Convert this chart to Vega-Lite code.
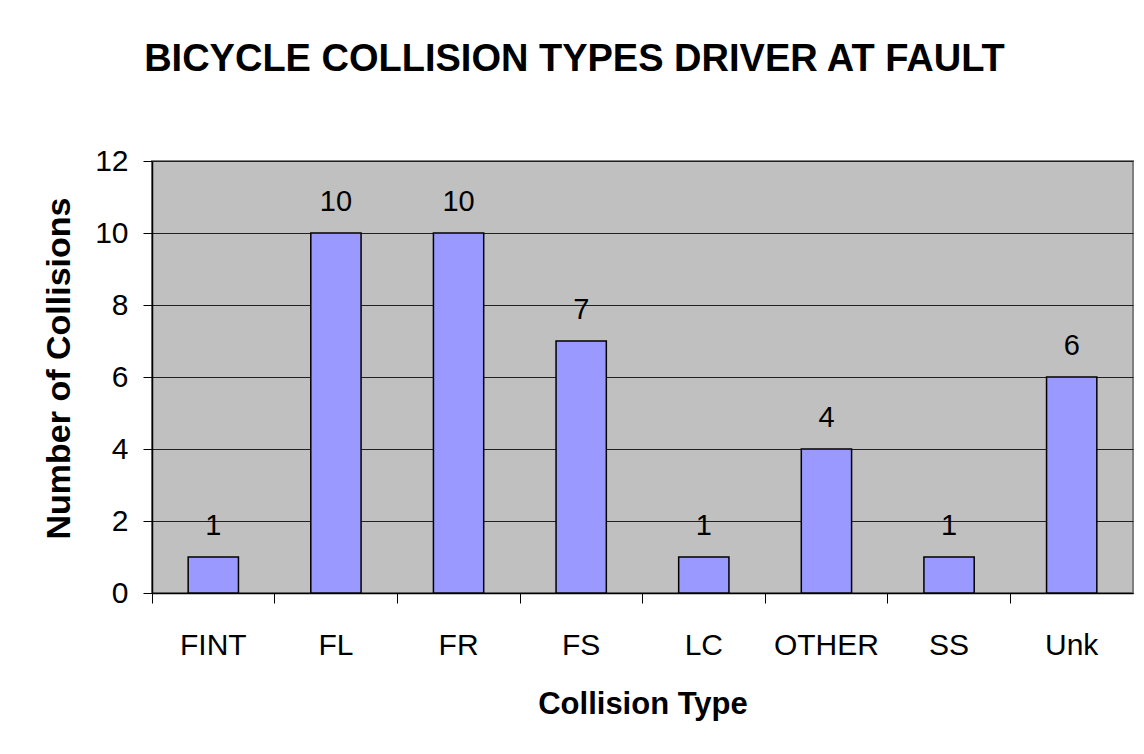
{
  "$schema": "https://vega.github.io/schema/vega-lite/v6.json",
  "width": 981,
  "height": 432,
  "autosize": "none",
  "padding": {"left": 152, "top": 161, "right": 11, "bottom": 161},
  "background": "white",
  "config": {
    "font": "Liberation Sans",
    "view": {"fill": "#C0C0C0", "stroke": "#808080", "strokeWidth": 2}
  },
  "title": {
    "text": "BICYCLE COLLISION TYPES DRIVER AT FAULT",
    "fontSize": 38,
    "fontWeight": "bold",
    "color": "black",
    "anchor": "middle",
    "baseline": "alphabetic",
    "dx": -68,
    "offset": 37
  },
  "data": {
    "values": [
      {"type": "FINT", "count": 1},
      {"type": "FL", "count": 10},
      {"type": "FR", "count": 10},
      {"type": "FS", "count": 7},
      {"type": "LC", "count": 1},
      {"type": "OTHER", "count": 4},
      {"type": "SS", "count": 1},
      {"type": "Unk", "count": 6}
    ]
  },
  "encoding": {
    "x": {
      "field": "type",
      "type": "nominal",
      "sort": null,
      "scale": {"paddingInner": 0.59, "paddingOuter": 0.295},
      "axis": {
        "title": "Collision Type",
        "titleFontSize": 31,
        "titleFontWeight": "bold",
        "titleColor": "black",
        "titleBaseline": "alphabetic",
        "titleY": 120,
        "labelAngle": 0,
        "labelFontSize": 30,
        "labelColor": "black",
        "labelBaseline": "top",
        "labelPadding": 27,
        "domainColor": "black",
        "domainWidth": 1.5,
        "tickColor": "black",
        "tickSize": 10,
        "bandPosition": -0.717
      }
    },
    "y": {
      "field": "count",
      "type": "quantitative",
      "scale": {"domain": [0, 12], "nice": false},
      "axis": {
        "title": "Number of Collisions",
        "titleFontSize": 34,
        "titleFontWeight": "bold",
        "titleColor": "black",
        "titleBaseline": "alphabetic",
        "titleX": -83,
        "titleY": 207,
        "values": [0, 2, 4, 6, 8, 10, 12],
        "labelFontSize": 30,
        "labelColor": "black",
        "labelPadding": 15,
        "domainColor": "black",
        "domainWidth": 1.5,
        "tickColor": "black",
        "tickSize": 9,
        "gridColor": "#202020",
        "gridWidth": 1,
        "grid": true
      }
    }
  },
  "layer": [
    {
      "mark": {"type": "bar", "fill": "#9999FF", "stroke": "black", "strokeWidth": 1.5}
    },
    {
      "mark": {"type": "text", "baseline": "alphabetic", "dy": -22, "fontSize": 29, "color": "black"},
      "encoding": {"text": {"field": "count", "type": "quantitative"}}
    }
  ]
}
